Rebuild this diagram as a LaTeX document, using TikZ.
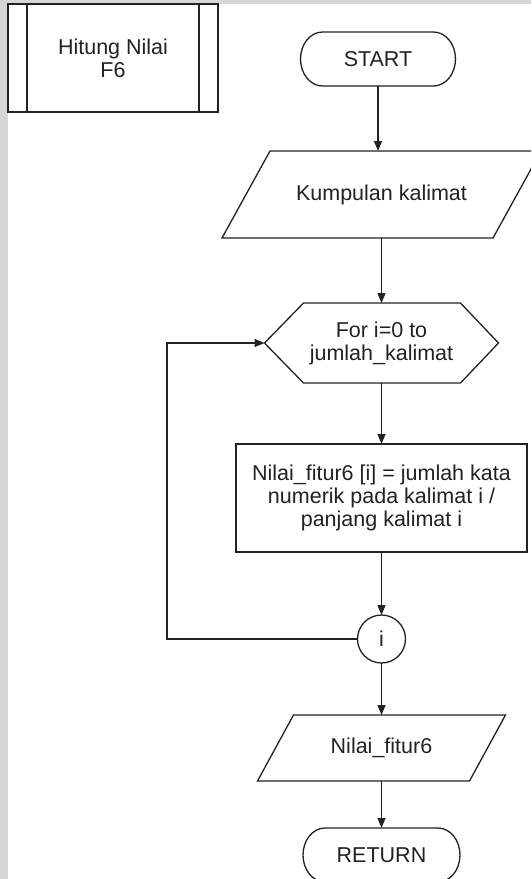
\documentclass[tikz,border=0pt]{standalone}
\usepackage{fontspec}
\setmainfont{Liberation Sans}
\usetikzlibrary{arrows.meta,calc}
\definecolor{ink}{HTML}{222222}
\definecolor{margin}{HTML}{D6D6D6}
\begin{document}
\begin{tikzpicture}[x=1pt,y=-1pt,
  outline/.style={draw=ink, line width=1.3pt, line join=miter},
  textbox/.style={rectangle, inner sep=0pt, outer sep=0pt, align=center,
    font=\fontsize{21.5}{23}\selectfont, text=ink},
  flow/.style={draw=ink, line width=1.3pt, -{Triangle[length=10pt,width=8pt]}}]
\useasboundingbox (0,0) rectangle (531,879);
\clip (0,0) rectangle (531,879);
\fill[white] (0,0) rectangle (531,879);
\fill[margin] (0,0) rectangle (7.5,879);
\fill[margin] (0,0) rectangle (531,3.5);

% predefined process: title of the subroutine
\node[textbox, minimum width=210pt, minimum height=108pt] (title) at (113,58) {Hitung Nilai\\F6};
\draw[outline] (title.north west) rectangle (title.south east);
\draw[outline] ($(title.north west)+(19,0)$) -- ($(title.south west)+(19,0)$);
\draw[outline] ($(title.north east)+(-19,0)$) -- ($(title.south east)+(-19,0)$);

% terminator START
\node[textbox, minimum width=155pt, minimum height=54pt] (start) at (378,59) {START};
\draw[outline] ($(start.north west)+(22,0)$) -- ($(start.north east)+(-22,0)$)
  arc[start angle=90, end angle=-90, x radius=22pt, y radius=27pt]
  -- ($(start.south west)+(22,0)$)
  arc[start angle=270, end angle=90, x radius=22pt, y radius=27pt] -- cycle;

% input: list of sentences
\node[textbox, minimum width=319pt, minimum height=87pt] (in1) at (381.5,194.5) {Kumpulan kalimat};
\draw[outline] ($(in1.north west)+(48,0)$) -- (in1.north east)
  -- ($(in1.south east)+(-48,0)$) -- (in1.south west) -- cycle;

% loop header (hexagon)
\node[textbox, minimum width=234pt, minimum height=80pt] (loop) at (381.5,343) {For i=0 to\\jumlah\_kalimat};
\draw[outline] (loop.west) -- ($(loop.north west)+(39,0)$) -- ($(loop.north east)+(-38,0)$)
  -- (loop.east) -- ($(loop.south east)+(-38,0)$) -- ($(loop.south west)+(39,0)$) -- cycle;

% process
\node[textbox, outline, minimum width=291pt, minimum height=108pt] (calc) at (381.5,498)
  {Nilai\_fitur6 [i] = jumlah kata\\numerik pada kalimat i /\\panjang kalimat i};

% loop connector
\node[textbox, outline, circle, minimum size=48pt] (conn) at (381.5,639) {i};

% output
\node[textbox, minimum width=248pt, minimum height=66pt] (out) at (381.5,748) {Nilai\_fitur6};
\draw[outline] ($(out.north west)+(36,0)$) -- (out.north east)
  -- ($(out.south east)+(-36,0)$) -- (out.south west) -- cycle;

% terminator RETURN
\node[textbox, minimum width=157pt, minimum height=54pt] (ret) at (381.5,855) {RETURN};
\draw[outline] ($(ret.north west)+(22,0)$) -- ($(ret.north east)+(-22,0)$)
  arc[start angle=90, end angle=-90, x radius=22pt, y radius=27pt]
  -- ($(ret.south west)+(22,0)$)
  arc[start angle=270, end angle=90, x radius=22pt, y radius=27pt] -- cycle;

% connectors
\coordinate (back) at (167,639);
\draw[flow] (start.south) -- (start.south |- in1.north);
\draw[flow] (in1.south) -- (loop.north);
\draw[flow] (loop.south) -- (calc.north);
\draw[flow] (calc.south) -- (conn.north);
\draw[flow] (conn.south) -- (out.north);
\draw[flow] (out.south) -- (ret.north);
\draw[flow] (conn.west) -- (back) |- (loop.west);
\end{tikzpicture}
\end{document}
